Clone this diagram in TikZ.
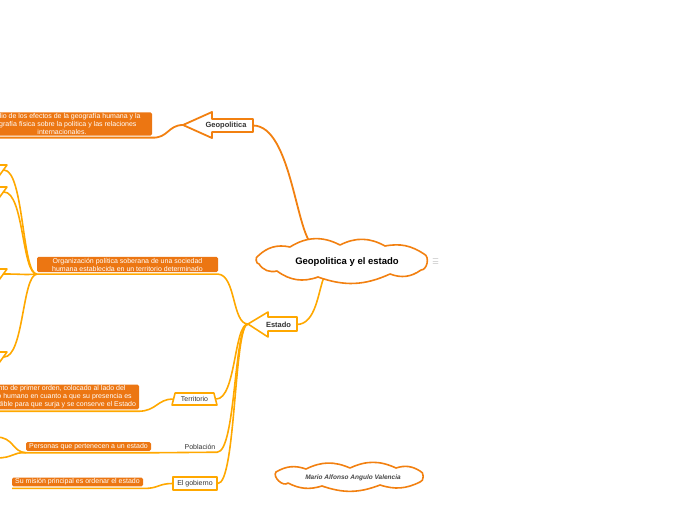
\documentclass[tikz,border=0pt]{standalone}
\usepackage{fontspec}
\setmainfont{Liberation Sans}
\usetikzlibrary{backgrounds, shapes.geometric}

\definecolor{geoorange}{RGB}{242,128,16}
\definecolor{boxorange}{RGB}{236,118,18}
\definecolor{estyellow}{RGB}{255,168,0}
\definecolor{notegray}{RGB}{215,215,215}
\definecolor{authgray}{RGB}{70,70,70}

\begin{document}
\begin{tikzpicture}[x=1pt, y=-1pt, line join=round, line cap=round,
    geoline/.style={draw=geoorange, line width=1.8pt},
    estline/.style={draw=estyellow, line width=1.6pt},
    cloudline/.style={draw=geoorange, line width=1.6pt, fill=white},
    infobox/.style={fill=boxorange, text=white, align=center,
      font=\fontsize{7}{8}\selectfont, inner xsep=3pt, inner ysep=1pt,
      outer xsep=0pt, outer ysep=2pt, rounded corners=1.5pt},
    topic/.style={font=\bfseries\fontsize{7.5}{9}\selectfont, text=black!80},
    subtopic/.style={font=\fontsize{7}{8}\selectfont, text=black!80}]

    \useasboundingbox (0,0) rectangle (696,520);

    % ---------- central topic ----------
    \filldraw[cloudline] (258,256) to[bend left=28] (290,247)
      to[bend left=30] (340,245) to[bend left=28] (385,246)
      to[bend left=22] (424,254) to[bend left=80] (421,270)
      to[bend left=28] (390,274) to[bend left=22] (318,277)
      to[bend left=28] (277,271) to[bend left=35] (259,264)
      to[bend left=85] cycle;
    \node[font=\bfseries\fontsize{9.5}{11}\selectfont] (root) at (347,262)
      {Geopolitica y el estado};
    \coordinate (rootTop) at (314,246);
    \coordinate (rootBot) at (324,277);
    \foreach \yy in {258.5,261,263.5}
      \draw[notegray, line width=0.8pt] (433,\yy) -- (438,\yy);

    % ---------- Geopolitica ----------
    \coordinate (geoTip) at (183,125);
    \coordinate (geoTail) at (253,125.5);
    \filldraw[geoline, fill=white] (geoTip) -- (212,112) -- (212,119)
      -- (253,119) -- (253,132) -- (212,132) -- (212,138) -- cycle;
    \node[topic] (geo) at (226,125.5) {Geopolitica};
    \node[infobox, minimum width=180pt] (geoinfo) at (62,124)
      {Estudio de los efectos de la geografía humana y la\\
       geografía física sobre la política y las relaciones\\
       internacionales.};

    % ---------- Estado ----------
    \coordinate (estTip) at (248,324);
    \coordinate (estTail) at (297,324.5);
    \filldraw[estline, fill=white] (estTip) -- (268,312) -- (268,317)
      -- (297,317) -- (297,331) -- (268,331) -- (268,337) -- cycle;
    \node[topic] (est) at (278.5,324.5) {Estado};
    \node[infobox, minimum width=181pt] (org) at (127.5,264.5)
      {Organización política soberana de una sociedad\\
       humana establecida en un territorio determinado};

    % ---------- cut-off items on the left ----------
    \foreach \t [count=\i] in {165,187,269,352} {
      \draw[estline] (-4,\t) -- (7,\t) -- (-1,\t+11);
      \coordinate (left\i) at (4,\t+5);
    }

    % ---------- Territorio / Poblacion / El gobierno ----------
    \node[trapezium, trapezium left angle=72, trapezium right angle=72,
      trapezium stretches=true, draw=estyellow, line width=1.6pt, fill=white,
      minimum width=45pt, minimum height=12pt, inner sep=1pt, subtopic]
      (terr) at (194.5,399) {Territorio};
    \node[infobox, anchor=east] (elem) at (139,397)
      {Elemento de primer orden, colocado al lado del\\
       elemento humano en cuanto a que su presencia es\\
       imprescindible para que surja y se conserve el Estado};

    \node[subtopic, minimum width=34pt, minimum height=11pt, inner sep=0pt]
      (pob) at (200,446.5) {Población};
    \node[infobox, minimum width=125pt] (pers) at (88.5,446.5)
      {Personas que pertenecen a un estado};
    \coordinate (persUp) at (-4,437);
    \coordinate (persDown) at (-4,458);

    \node[draw=estyellow, line width=1.6pt, fill=white, minimum width=44pt,
      minimum height=13pt, inner sep=1pt, subtopic] (gob) at (195,483.5)
      {El gobierno};
    \node[infobox, minimum width=131pt] (mis) at (77.5,482)
      {Su misión principal es ordenar el estado};

    % ---------- author ----------
    \filldraw[cloudline] (276,472) to[bend left=25] (306,469)
      to[bend left=25] (350,468) to[bend left=25] (396,468)
      to[bend left=25] (420,471) to[bend left=85] (420,482)
      to[bend left=22] (380,485) to[bend left=20] (322,486)
      to[bend left=22] (288,483) to[bend left=85] cycle;
    \node[font=\bfseries\itshape\fontsize{6.5}{8}\selectfont, text=authgray]
      (autor) at (353,477.5) {Mario Alfonso Angulo Valencia};

    % ---------- connectors ----------
    \begin{pgfonlayer}{background}
      \draw[geoline] (geoTail) .. controls (292,125.5) and (296,238) .. (rootTop);
      \draw[geoline] (geoTip) .. controls (168,125) and (168,138.5)
        .. (geoinfo.south east) -- (geoinfo.south west);

      \draw[estline] (estTail) .. controls (316,324) and (318,292) .. (rootBot);
      \draw[estline] (estTip) .. controls (232,324) and (236,275)
        .. (org.south east) -- (org.south west);
      \foreach \i/\yy in {1/170,2/192,3/274,4/357}
        \draw[estline] (org.south west) .. controls (22,275) and (24,\yy) .. (left\i);

      \draw[estline] (estTip) .. controls (234,324) and (236,399) .. (terr.east);
      \draw[estline] (terr.west) .. controls (158,399) and (156,411)
        .. (elem.south east) -- (elem.south west);

      \draw[estline] (estTip) .. controls (234,324) and (236,452)
        .. (pob.south east) -- (pers.south east) -- (pers.south west);
      \draw[estline] (pers.south west) .. controls (12,452) and (14,437) .. (persUp);
      \draw[estline] (pers.south west) .. controls (12,452) and (14,458) .. (persDown);

      \draw[estline] (estTip) .. controls (234,324) and (236,484) .. (gob.east);
      \draw[estline] (gob.west) .. controls (158,483.5) and (158,489)
        .. (mis.south east) -- (mis.south west);
    \end{pgfonlayer}

\end{tikzpicture}
\end{document}
